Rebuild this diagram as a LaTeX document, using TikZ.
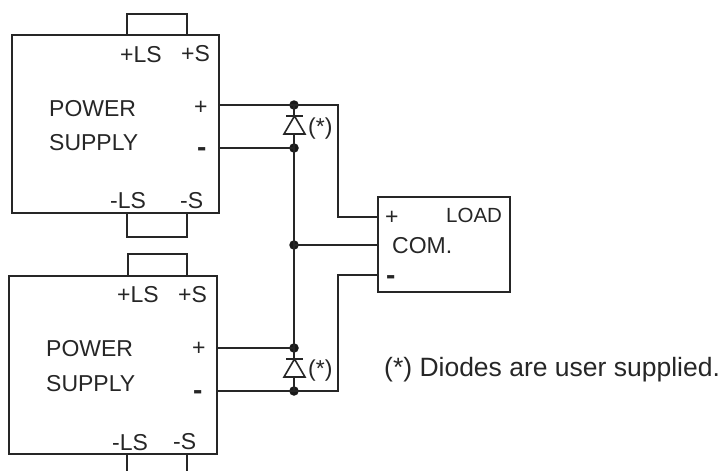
\documentclass[tikz,border=0pt]{standalone}
\usepackage{fontspec}
\setmainfont{Liberation Sans}
\tikzset{
  x=1pt,y=-1pt,
  wire/.style={line width=1.7pt,draw=black!85,line join=miter},
  dot/.style={circle,fill=black!90,inner sep=0pt,minimum size=9.5pt},
  lbl/.style={inner sep=0pt,anchor=base west,font=\fontsize{23}{26}\selectfont,text=black!85},
  small/.style={inner sep=0pt,anchor=base west,font=\fontsize{20.5}{24}\selectfont,text=black!85},
  sign/.style={inner sep=0pt,anchor=base west,font=\fontsize{28}{30}\selectfont\bfseries,text=black!85},
  note/.style={inner sep=0pt,anchor=base west,font=\fontsize{26.5}{30}\selectfont,text=black!85},
  tri/.style={line width=1.6pt,draw=black!85,fill=white,line join=miter},
  bar/.style={line width=1.6pt,draw=black!85}
}
\begin{document}
\begin{tikzpicture}
\useasboundingbox (0,0) rectangle (723,471);
% power supplies and load
\node[wire,draw,minimum width=207pt,minimum height=178pt,inner sep=0pt] (psa) at (115.5,124) {};
\node[wire,draw,minimum width=208pt,minimum height=178pt,inner sep=0pt] (psb) at (113,365) {};
\node[wire,draw,minimum width=132pt,minimum height=95pt,inner sep=0pt] (load) at (444,244.5) {};
% jumpers
\coordinate (a1) at (127,35.5); \coordinate (a2) at (187,35.5);
\draw[wire] (a1) |- (187,14) -- (a2);
\coordinate (a3) at (127,213); \coordinate (a4) at (187,213);
\draw[wire] (a3) |- (187,237) -- (a4);
\coordinate (b1) at (128,276); \coordinate (b2) at (187,276);
\draw[wire] (b1) |- (187,254) -- (b2);
\coordinate (b3) at (127,454); \coordinate (b4) at (187,454);
\coordinate (b5) at (127,471); \coordinate (b6) at (187,471);
\draw[wire] (b3) -- (b5);
\draw[wire] (b4) -- (b6);
% junctions
\node[dot] (j1) at (294,105) {};
\node[dot] (j2) at (294,148) {};
\node[dot] (j3) at (294,245) {};
\node[dot] (j4) at (294,348) {};
\node[dot] (j5) at (294,391) {};
% wires
\coordinate (pa) at (219,105); \coordinate (ma) at (219,148);
\coordinate (pb) at (217,348); \coordinate (mb) at (217,391);
\coordinate (lp) at (377.5,217); \coordinate (lc) at (377.5,245); \coordinate (lm) at (377.5,275);
\draw[wire] (pa) -- (j1.center) -- (338,105) |- (lp);
\draw[wire] (ma) -- (j2.center);
\draw[wire] (j1.center) -- (j5.center);
\draw[wire] (j3.center) -- (lc);
\draw[wire] (pb) -- (j4.center);
\draw[wire] (mb) -- (j5.center) -- (338,391) |- (lm);
% diodes
\draw[tri] (294.5,116) -- (305,134) -- (284,134) -- cycle;
\draw[bar] (286,116) -- (303,116);
\draw[tri] (294.5,359) -- (305,377) -- (284,377) -- cycle;
\draw[bar] (286,359) -- (303,359);
% labels
\node[lbl] (t1) at (120,62) {+LS};
\node[lbl] (t2) at (181,61) {+S};
\node[lbl] (t3) at (49,116) {POWER};
\node[lbl] (t4) at (49,150) {SUPPLY};
\node[lbl] (t5) at (194,114) {+};
\node[sign] (t6) at (197,156) {-};
\node[lbl] (t7) at (110,208) {-LS};
\node[lbl] (t8) at (180,208) {-S};
\node[lbl] (u1) at (117,302.5) {+LS};
\node[lbl] (u2) at (178,302.5) {+S};
\node[lbl] (u3) at (46,356) {POWER};
\node[lbl] (u4) at (46,391) {SUPPLY};
\node[lbl] (u5) at (192,355) {+};
\node[sign] (u6) at (193,399) {-};
\node[lbl] (u7) at (112,450) {-LS};
\node[lbl] (u8) at (173,449) {-S};
\node[lbl] (d1) at (308,134) {(*)};
\node[lbl] (d2) at (308,376) {(*)};
\node[lbl] (l1) at (385,224) {+};
\node[small] (l2) at (446,222) {LOAD};
\node[lbl] (l3) at (392,253) {COM.};
\node[sign] (l4) at (386,284) {-};
\node[note] (n1) at (384,376) {(*) Diodes are user supplied.};
\end{tikzpicture}
\end{document}
